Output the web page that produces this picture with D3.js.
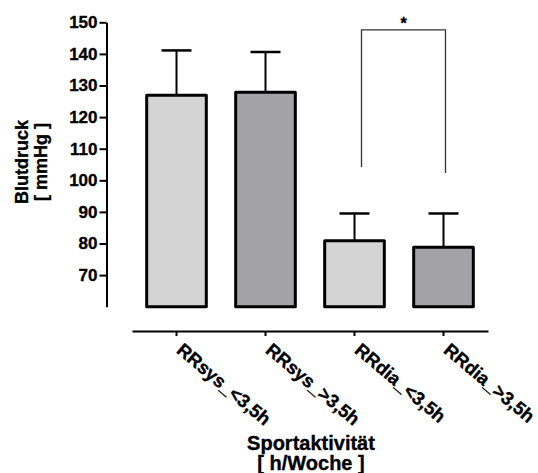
<!DOCTYPE html>
<html>
<head>
<meta charset="utf-8">
<script src="https://cdn.jsdelivr.net/npm/d3@7"></script>
<style>
  body { margin: 0; background: #fff; }
  text { font-family: "Liberation Sans", Arial, sans-serif; font-weight: bold; stroke: #000; stroke-width: 0.35px; }
</style>
</head>
<body>
<div id="chart"></div>
<script>
const categories = ["RRsys_<3,5h", "RRsys_>3,5h", "RRdia_<3,5h", "RRdia_>3,5h"];
const means = [126.9, 127.9, 80.9, 78.8];
const sds = [14.2, 12.7, 8.6, 10.7];
const fills = ["#d4d4d4", "#a3a3a7", "#d4d4d4", "#a3a3a7"];
const yTicks = [70, 80, 90, 100, 110, 120, 130, 140, 150];
// significance bracket between group 3 and 4
const bracket = { from: 2, to: 3, top: 147.6, leftEnd: 104.2, rightEnd: 102.3, label: "*" };

const width = 538, height = 473;

const svg = d3.select("#chart")
  .append("svg")
  .attr("width", width)
  .attr("height", height);

const x = d3.scaleBand()
  .domain(categories)
  .range([132, 488])
  .paddingInner(0.33)
  .paddingOuter(0.165);

const y = d3.scaleLinear()
  .domain([60, 150])
  .range([306.7, 22.3]);

const data = categories.map((c, i) => ({ cat: c, mean: means[i], sd: sds[i], fill: fills[i] }));

// error bars (drawn first, bar covers the bottom)
const err = svg.append("g").attr("stroke", "#000");
err.selectAll("line.v")
  .data(data)
  .join("line")
  .attr("class", "v")
  .attr("x1", d => x(d.cat) + x.bandwidth() / 2)
  .attr("x2", d => x(d.cat) + x.bandwidth() / 2)
  .attr("y1", d => y(d.mean))
  .attr("y2", d => y(d.mean + d.sd))
  .attr("stroke-width", 2);
err.selectAll("line.cap")
  .data(data)
  .join("line")
  .attr("class", "cap")
  .attr("x1", d => x(d.cat) + x.bandwidth() / 2 - 15)
  .attr("x2", d => x(d.cat) + x.bandwidth() / 2 + 15)
  .attr("y1", d => y(d.mean + d.sd))
  .attr("y2", d => y(d.mean + d.sd))
  .attr("stroke-width", 2.5);

// bars
svg.append("g")
  .selectAll("rect")
  .data(data)
  .join("rect")
  .attr("x", d => x(d.cat))
  .attr("y", d => y(d.mean))
  .attr("width", x.bandwidth())
  .attr("height", d => y(60) - y(d.mean))
  .attr("fill", d => d.fill)
  .attr("stroke", "#000")
  .attr("stroke-width", 3)
  .attr("stroke-linejoin", "round");

// y axis
const yAxis = svg.append("g")
  .attr("transform", "translate(106.5,0)")
  .call(d3.axisLeft(y).tickValues(yTicks).tickSize(7).tickSizeOuter(0).tickPadding(2));
yAxis.select(".domain").attr("stroke-width", 2);
yAxis.selectAll(".tick line").attr("stroke-width", 2);
yAxis.selectAll(".tick text")
  .attr("font-size", 17)
  .attr("fill", "#000");

// x axis
const xAxis = svg.append("g")
  .attr("transform", "translate(0,331)")
  .call(d3.axisBottom(x).tickSize(5).tickSizeOuter(0));
xAxis.select(".domain").attr("stroke-width", 2);
xAxis.selectAll(".tick line").attr("stroke-width", 2);
xAxis.selectAll(".tick text")
  .attr("font-size", 18.5)
  .attr("fill", "#000")
  .attr("y", 0)
  .attr("x", 0)
  .attr("dy", 0)
  .attr("transform", "translate(-1,21) rotate(40)")
  .style("text-anchor", "start");

// significance bracket
const bx1 = x(categories[bracket.from]) + x.bandwidth() / 2 + 7;
const bx2 = x(categories[bracket.to]) + x.bandwidth() / 2 + 2;
svg.append("path")
  .attr("d", `M${bx1},${y(bracket.leftEnd)}V${y(bracket.top)}H${bx2}V${y(bracket.rightEnd)}`)
  .attr("fill", "none")
  .attr("stroke", "#333")
  .attr("stroke-width", 1.3);
svg.append("text")
  .attr("x", (bx1 + bx2) / 2)
  .attr("y", y(bracket.top) - 1)
  .attr("text-anchor", "middle")
  .attr("font-size", 16)
  .text(bracket.label);

// axis titles
const yTitle = svg.append("text")
  .attr("transform", "translate(27.5,162) rotate(-90)")
  .attr("text-anchor", "middle")
  .attr("font-size", 18);
yTitle.append("tspan").attr("x", 0).attr("y", 0).text("Blutdruck");
yTitle.append("tspan").attr("x", 0).attr("y", 19).text("[ mmHg ]");

const xTitle = svg.append("text")
  .attr("text-anchor", "middle")
  .attr("font-size", 20);
xTitle.append("tspan").attr("x", 311).attr("y", 450).text("Sportaktivität");
xTitle.append("tspan").attr("x", 311).attr("y", 470).text("[ h/Woche ]");
</script>
</body>
</html>
